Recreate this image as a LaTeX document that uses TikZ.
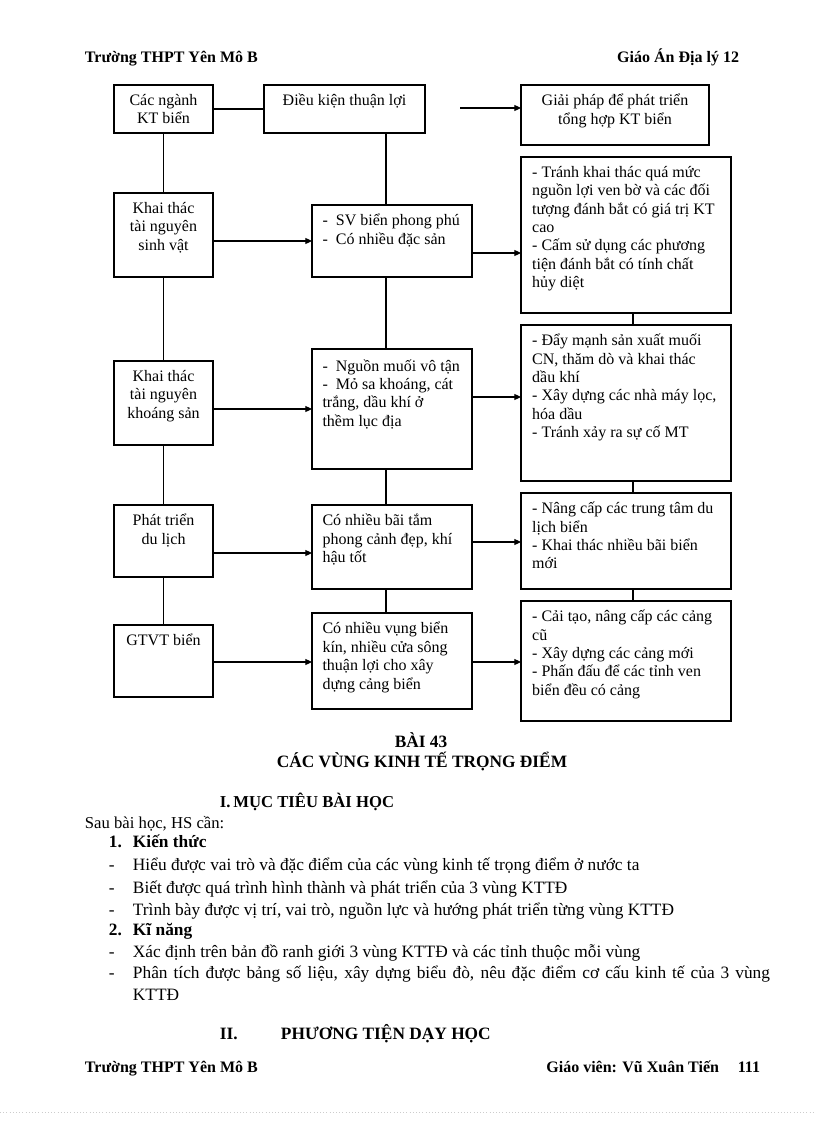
\documentclass[tikz,border=0pt]{standalone}
\usepackage{fontspec}
\setmainfont{Liberation Serif}
\usepackage{tikz}
\usetikzlibrary{arrows.meta,positioning}

\begin{document}
\begin{tikzpicture}[x=0.75pt,y=-0.75pt,line width=0.8pt,
    font=\fontsize{12}{13.8}\selectfont,
    box/.style={draw,anchor=north west,inner sep=0pt,outer sep=0pt},
    txt/.style={inner sep=0pt,align=left},
    ctxt/.style={inner sep=0pt,align=center},
    body/.style={anchor=base west,font=\fontsize{13}{15}\selectfont},
    arr/.style={-{Triangle[length=5pt,width=4.5pt]}}]
\useasboundingbox[fill=white] (0,0) rectangle (816,1123);
%header
\node[anchor=base west] (h1) at (80,63) {\bfseries Trường THPT Yên Mô B};
\node[anchor=base east] (h2) at (744,63) {\bfseries Giáo Án Địa lý 12};
\begin{scope}[every node/.style={inner sep=0pt}]
    %left column
    \node[box,minimum width=74.25pt,minimum height=36pt] (a) at (114,85) {};
    \node[box,minimum width=74.25pt,minimum height=63pt] (b) at (114,193) {};
    \node[box,minimum width=74.25pt,minimum height=63pt] (c) at (114,361) {};
    \node[box,minimum width=74.25pt,minimum height=54pt] (d) at (114,505) {};
    \node[box,minimum width=74.25pt,minimum height=54pt] (e) at (114,625) {};
    \node[ctxt,below=6.5pt of a.north] (at) {Các ngành\\KT biển};
    \node[ctxt,below=6.5pt of b.north] (bt) {Khai thác\\tài nguyên\\sinh vật};
    \node[ctxt,below=6.5pt of c.north] (ct) {Khai thác\\tài nguyên\\khoáng sản};
    \node[ctxt,below=6.5pt of d.north] (dt) {Phát triển\\du lịch};
    \node[ctxt,below=6.5pt of e.north] (et) {GTVT biển};
    \path [-] (a) edge (b);
    \path [-] (b) edge (c);
    \path [-] (c) edge (d);
    \path [-] (d) edge (e);
    %middle column
    \node[box,minimum width=120.75pt,minimum height=36pt] (aa) at (264,85) {};
    \node[box,minimum width=120pt,minimum height=54pt] (bb) at (312,205) {};
    \node[box,minimum width=120pt,minimum height=90pt] (cc) at (312,349) {};
    \node[box,minimum width=120pt,minimum height=63pt] (dd) at (312,505) {};
    \node[box,minimum width=120pt,minimum height=72pt] (ee) at (312,613) {};
    \node[ctxt,below=6.5pt of aa.north] (aat) {Điều kiện thuận lợi};
    \node[txt,below right=6.5pt and 7.5pt of bb.north west] (bbt) {-~~SV biển phong phú\\-~~Có nhiều đặc sản};
    \node[txt,below right=7.5pt and 7.5pt of cc.north west] (cct) {-~~Nguồn muối vô tận\\-~~Mỏ sa khoáng, cát\\trắng, dầu khí ở\\thềm lục địa};
    \node[txt,below right=6.5pt and 7.5pt of dd.north west] (ddt) {Có nhiều bãi tắm\\phong cảnh đẹp, khí\\hậu tốt};
    \node[txt,below right=6.5pt and 7.5pt of ee.north west] (eet) {Có nhiều vụng biển\\kín, nhiều cửa sông\\thuận lợi cho xây\\dựng cảng biển};
    \coordinate (mx) at (386,0);
    \draw (mx |- aa.south) -- (mx |- bb.north);
    \draw (mx |- bb.south) -- (mx |- cc.north);
    \draw (mx |- cc.south) -- (mx |- dd.north);
    \draw (mx |- dd.south) -- (mx |- ee.north);
    \path [-] (a) edge (aa);
    %right column
    \node[box,minimum width=141pt,minimum height=45pt] (A) at (521,85) {};
    \node[box,minimum width=157.5pt,minimum height=117pt] (B) at (521,157) {};
    \node[box,minimum width=157.5pt,minimum height=117pt] (C) at (521,325) {};
    \node[box,minimum width=157.5pt,minimum height=72pt] (D) at (521,493) {};
    \node[box,minimum width=157.5pt,minimum height=90pt] (E) at (521,601) {};
    \node[ctxt,below=6.5pt of A.north] (At) {Giải pháp để phát triển\\tổng hợp KT biển};
    \node[txt,below right=6.5pt and 8pt of B.north west] (Bt) {- Tránh khai thác quá mức\\nguồn lợi ven bờ và các đối\\tượng đánh bắt có giá trị KT\\cao\\- Cấm sử dụng các phương\\tiện đánh bắt có tính chất\\hủy diệt};
    \node[txt,below right=6.5pt and 8pt of C.north west] (Ct) {- Đẩy mạnh sản xuất muối\\CN, thăm dò và khai thác\\dầu khí\\- Xây dựng các nhà máy lọc,\\hóa dầu\\- Tránh xảy ra sự cố MT};
    \node[txt,below right=6.5pt and 8pt of D.north west] (Dt) {- Nâng cấp các trung tâm du\\lịch biển\\- Khai thác nhiều bãi biển\\mới};
    \node[txt,below right=6.5pt and 8pt of E.north west] (Et) {- Cải tạo, nâng cấp các cảng\\cũ\\- Xây dựng các cảng mới\\- Phấn đấu để các tỉnh ven\\biển đều có cảng};
    \coordinate (rx) at (633,0);
    \draw (rx |- B.south) -- (rx |- C.north);
    \draw (rx |- C.south) -- (rx |- D.north);
    \draw (rx |- D.south) -- (rx |- E.north);
    %arrows
    \coordinate (g) at (460,108);
    \draw[arr] (g) -- (g -| A.west);
    \coordinate (y1) at (0,241);
    \coordinate (y2) at (0,409);
    \coordinate (y3) at (0,553);
    \coordinate (y4) at (0,662);
    \draw[arr] (b.east |- y1) -- (bb.west |- y1);
    \draw[arr] (c.east |- y2) -- (cc.west |- y2);
    \draw[arr] (d.east |- y3) -- (dd.west |- y3);
    \draw[arr] (e.east |- y4) -- (ee.west |- y4);
    \coordinate (z1) at (0,253);
    \coordinate (z2) at (0,397);
    \coordinate (z3) at (0,542);
    \coordinate (z4) at (0,662);
    \draw[arr] (bb.east |- z1) -- (B.west |- z1);
    \draw[arr] (cc.east |- z2) -- (C.west |- z2);
    \draw[arr] (dd.east |- z3) -- (D.west |- z3);
    \draw[arr] (ee.east |- z4) -- (E.west |- z4);
\end{scope}
%lesson text
\node[body,anchor=base] (bai) at (421,747) {\bfseries BÀI 43};
\node[body,anchor=base] (ten) at (422,767) {\bfseries CÁC VÙNG KINH TẾ TRỌNG ĐIỂM};
\node[body,font=\fontsize{12.5}{15}\selectfont] (muc1) at (215,807) {\bfseries I.\,MỤC TIÊU BÀI HỌC};
\node[body,font=\fontsize{12.5}{15}\selectfont] (sau) at (80,828) {Sau bài học, HS cần:};
\node[body] (so1) at (104,847) {\bfseries 1.};
\node[body] (kt) at (128,847) {\bfseries Kiến thức};
\foreach \y in {870,893,915,957,978}
    \node[body] (dash\y) at (104,\y) {-};
\node[body] (l1) at (128,870) {Hiểu được vai trò và đặc điểm của các vùng kinh tế trọng điểm ở nước ta};
\node[body] (l2) at (128,893) {Biết được quá trình hình thành và phát triển của 3 vùng KTTĐ};
\node[body] (l3) at (128,915) {Trình bày được vị trí, vai trò, nguồn lực và hướng phát triển từng vùng KTTĐ};
\node[body] (so2) at (104,935) {\bfseries 2.};
\node[body] (kn) at (128,935) {\bfseries Kĩ năng};
\node[body] (l4) at (128,957) {Xác định trên bản đồ ranh giới 3 vùng KTTĐ và các tỉnh thuộc mỗi vùng};
\node[body] (l5) at (128,978) {\hbox to 477.75pt{Phân tích được bảng số liệu, xây dựng biểu đò, nêu đặc điểm cơ cấu kinh tế của 3 vùng}};
\node[body] (l6) at (128,1000) {KTTĐ};
\node[body] (muc2) at (215,1039) {\bfseries II.};
\node[body] (pt) at (276,1039) {\bfseries PHƯƠNG TIỆN DẠY HỌC};
%footer
\node[anchor=base west] (f1) at (80,1072) {\bfseries Trường THPT Yên Mô B};
\node[anchor=base east] (f2) at (724,1072) {\bfseries Giáo viên: Vũ Xuân Tiến};
\node[anchor=base east] (f3) at (765,1072) {\bfseries 111};
\draw[gray!40,dotted,line width=0.4pt] (0,1112) -- (816,1112);
\end{tikzpicture}
\end{document}
